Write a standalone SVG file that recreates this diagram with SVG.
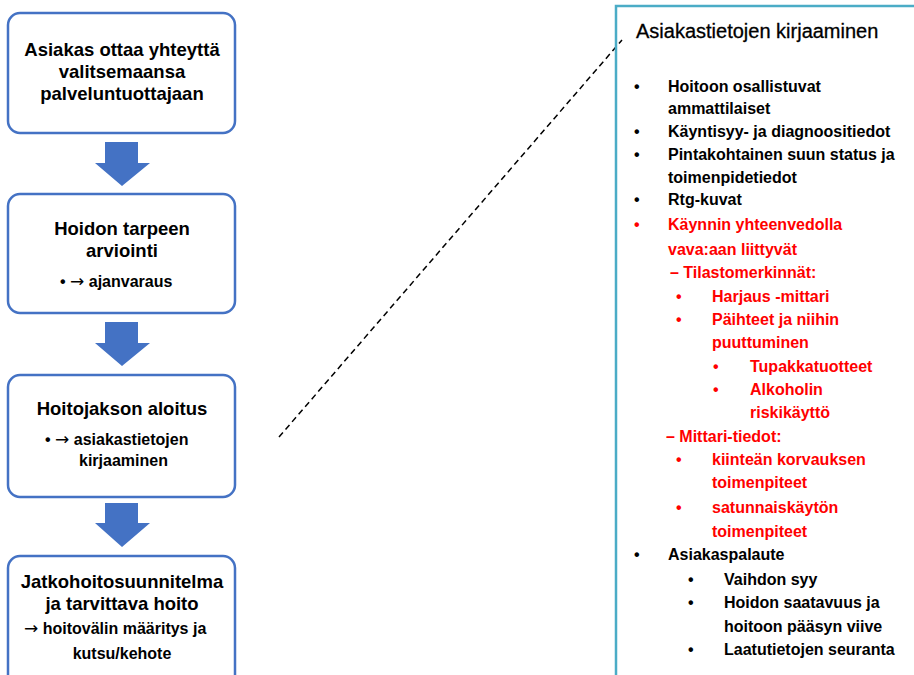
<svg xmlns="http://www.w3.org/2000/svg" width="914" height="675" viewBox="0 0 914 675">
<style>
.box{fill:#fff;stroke:#4472c4;stroke-width:2.5}
.arr{fill:#4472c4}
.t{font-family:"Liberation Sans",Arial,sans-serif;font-weight:bold;fill:#000}
.m{font-size:18.5px;text-anchor:middle}
.s{font-size:16px}
.ar{font-family:"DejaVu Sans",sans-serif;font-weight:normal;font-size:17px}
.r{font-family:"Liberation Sans",Arial,sans-serif;font-weight:bold;font-size:16px}
.k{fill:#000}
.red{fill:#ff0000}
</style>
<rect width="914" height="675" fill="#fff"/>
<g id="box1">
<rect class="box" x="8" y="13" width="227" height="120" rx="12"/>
<text class="t m" x="122" y="56">Asiakas ottaa yhteyttä</text>
<text class="t m" x="122" y="78">valitsemaansa</text>
<text class="t m" x="122" y="100">palveluntuottajaan</text>
</g>
<g id="box2">
<rect class="box" x="8" y="194" width="227" height="119" rx="12"/>
<text class="t m" x="122" y="235">Hoidon tarpeen</text>
<text class="t m" x="122" y="257">arviointi</text>
<text class="t s" x="60" y="287">• <tspan class="ar">→</tspan> ajanvaraus</text>
</g>
<g id="box3">
<rect class="box" x="8" y="375" width="227" height="122" rx="12"/>
<text class="t m" x="122" y="415">Hoitojakson aloitus</text>
<text class="t s" x="45" y="445">• <tspan class="ar">→</tspan> asiakastietojen</text>
<text class="t s" x="79" y="466">kirjaaminen</text>
</g>
<g id="box4">
<rect class="box" x="8" y="556" width="227" height="140" rx="12"/>
<text class="t m" x="122" y="588">Jatkohoitosuunnitelma</text>
<text class="t m" x="122" y="610">ja tarvittava hoito</text>
<text class="t s" x="24" y="634"><tspan class="ar">→</tspan> hoitovälin määritys ja</text>
<text class="t s" x="122" y="659" text-anchor="middle">kutsu/kehote</text>
</g>
<g id="connectors">
<polygon class="arr" points="105,142 138,142 138,163 150,163 122,186 95,163 105,163"/>
<polygon class="arr" points="105,322 138,322 138,343 150,343 122,366 95,343 105,343"/>
<polygon class="arr" points="105,503 138,503 138,523 150,523 122,547 95,523 105,523"/>
<line x1="279" y1="437" x2="622" y2="40" stroke="#000" stroke-width="1.5" stroke-dasharray="6,4"/>
</g>
<g id="panel">
<path d="M616,676 V6 H915" fill="none" stroke="#4bacc6" stroke-width="2.5"/>
<text x="636" y="38" font-family="'Liberation Sans',Arial,sans-serif" font-size="20" fill="#000" stroke="#000" stroke-width="0.3">Asiakastietojen kirjaaminen</text>
<g class="r k">
<text x="634" y="92">•</text><text x="668" y="92">Hoitoon osallistuvat</text>
<text x="668" y="114">ammattilaiset</text>
<text x="634" y="137">•</text><text x="668" y="137">Käyntisyy- ja diagnoositiedot</text>
<text x="634" y="160">•</text><text x="668" y="160">Pintakohtainen suun status ja</text>
<text x="668" y="183">toimenpidetiedot</text>
<text x="634" y="205">•</text><text x="668" y="205">Rtg-kuvat</text>
</g>
<g class="r red">
<text x="634" y="230">•</text><text x="668" y="230">Käynnin yhteenvedolla</text>
<text x="668" y="255">vava:aan liittyvät</text>
<text x="670" y="278">– Tilastomerkinnät:</text>
<text x="676" y="302">•</text><text x="712" y="302">Harjaus -mittari</text>
<text x="676" y="325">•</text><text x="712" y="325">Päihteet ja niihin</text>
<text x="712" y="348">puuttuminen</text>
<text x="713" y="372">•</text><text x="750" y="372">Tupakkatuotteet</text>
<text x="713" y="395">•</text><text x="750" y="395">Alkoholin</text>
<text x="750" y="418">riskikäyttö</text>
<text x="666" y="442">– Mittari-tiedot:</text>
<text x="676" y="465">•</text><text x="712" y="465">kiinteän korvauksen</text>
<text x="712" y="488">toimenpiteet</text>
<text x="676" y="513">•</text><text x="712" y="513">satunnaiskäytön</text>
<text x="712" y="537">toimenpiteet</text>
</g>
<g class="r k">
<text x="634" y="560">•</text><text x="668" y="560">Asiakaspalaute</text>
<text x="688" y="585">•</text><text x="724" y="585">Vaihdon syy</text>
<text x="688" y="608">•</text><text x="724" y="608">Hoidon saatavuus ja</text>
<text x="724" y="632">hoitoon pääsyn viive</text>
<text x="688" y="655">•</text><text x="724" y="655">Laatutietojen seuranta</text>
</g>
</g>
</svg>
